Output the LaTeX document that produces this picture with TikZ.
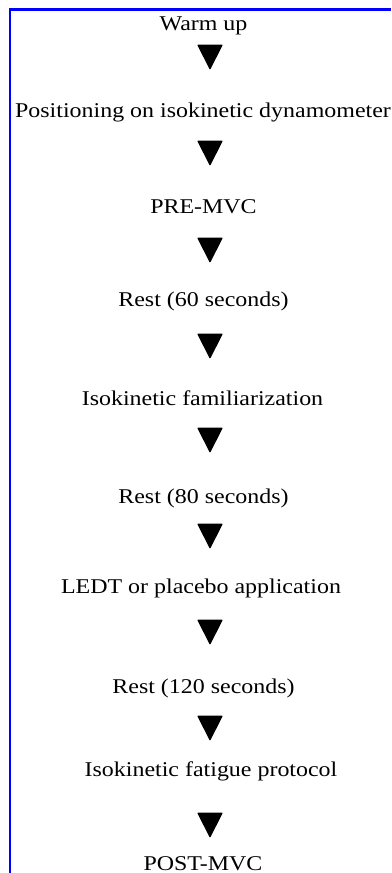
\documentclass[tikz,border=0pt]{standalone}
\usepackage{fontspec}
\setmainfont{Liberation Serif}[FakeStretch=1.14]
\usepackage{xcolor}
\usepackage{tikz}
\usetikzlibrary{positioning, calc}
\definecolor{frameblue}{HTML}{0000FF}

\tikzset{
  stepnode/.style={anchor=base, inner sep=0pt, font=\fontsize{21}{25}\selectfont},
  downtri/.pic={\fill[rounded corners=1pt] (-13,-12.5) -- (13,-12.5) -- (0,13) -- cycle;}
}

\begin{document}
\begin{tikzpicture}[x=1pt, y=-1pt]
    \useasboundingbox (0,0) rectangle (391,873);
    % frame, open on the right and bottom
    \draw[frameblue, line width=2.5pt] (10,873) -- (10,9.5) -- (391,9.5);

    % steps
    \node[stepnode] (warm) at (203.5,30) {Warm up};
    \node[stepnode] (posit) at (203,117) {Positioning on isokinetic dynamometer};
    \node[stepnode] (premvc) at (203.5,213) {PRE-MVC};
    \node[stepnode] (restA) at (203.5,306) {Rest (60 seconds)};
    \node[stepnode] (famil) at (202.5,405) {Isokinetic familiarization};
    \node[stepnode] (restB) at (203.5,503) {Rest (80 seconds)};
    \node[stepnode] (ledt) at (201,593) {LEDT or placebo application};
    \node[stepnode] (restC) at (203.5,693) {Rest (120 seconds)};
    \node[stepnode] (fatig) at (211,776) {Isokinetic fatigue protocol};
    \node[stepnode] (postmvc) at (203,870) {POST-MVC};

    % arrow marks between steps
    \coordinate (tricol) at (210,0);
    \foreach \a/\b/\dy in {warm/posit/-16.5, posit/premvc/-12, premvc/restA/-9.5,
        restA/famil/-9.5, famil/restB/-14, restB/ledt/-12, ledt/restC/-11,
        restC/fatig/-6.5, fatig/postmvc/2}{
      \path ($(\a.base)!0.5!(\b.base)+(0,\dy)$) coordinate (m);
      \pic at (tricol |- m) {downtri};
    }
\end{tikzpicture}
\end{document}
